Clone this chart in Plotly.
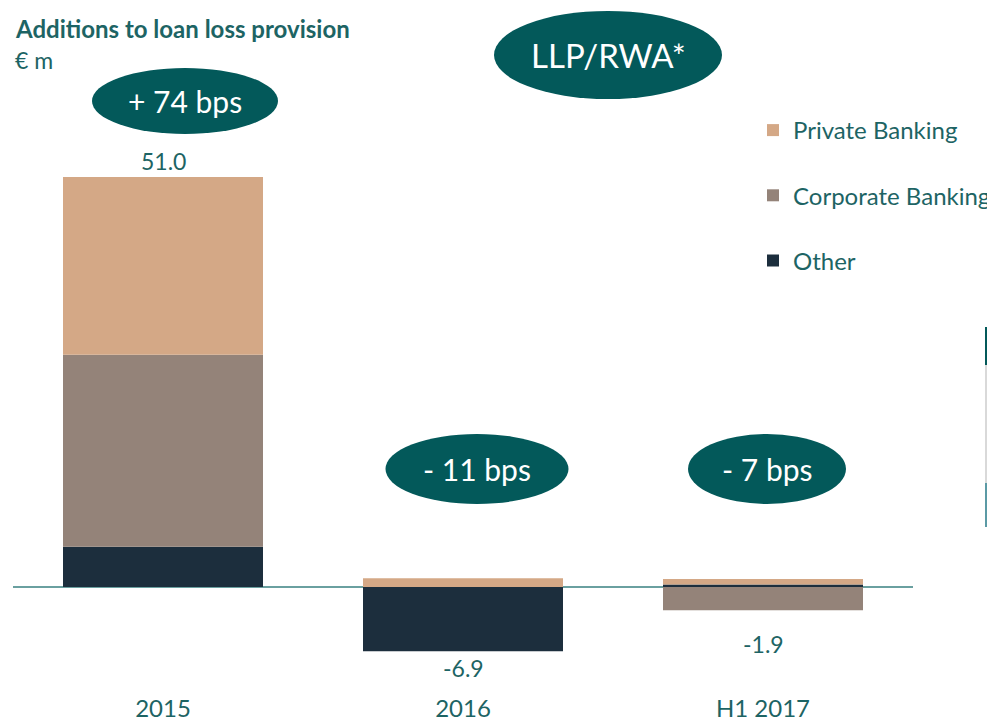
import plotly.graph_objects as go

# ---- data ----
categories = ["2015", "2016", "H1 2017"]
other = [5.0, -8.0, 0.3]
corporate = [23.9, 0.0, -2.9]
private = [22.1, 1.1, 0.7]
totals = ["51.0", "-6.9", "-1.9"]
bps_labels = ["+ 74 bps", "- 11 bps", "- 7 bps"]
legend_names = ["Other", "Corporate Banking", "Private Banking"]
table_rows = ["Additions to LLP", "Private Banking", "Corporate Banking", "Other", "Total"]

# ---- style ----
OFF = 8  # page body margin
W, H = 995, 721
PLOT_L, PLOT_R, PLOT_T, PLOT_B = 13, 913, 105, 684  # target screen pixels
ZERO_Y = 587
PX_PER_UNIT = 410 / 51.0
ML, MR, MT, MB = PLOT_L - OFF, W + OFF - PLOT_R, PLOT_T - OFF, H + OFF - PLOT_B
PW, PH = W - ML - MR, H - MT - MB
TEAL = "#03595a"
TXT = "#1d6464"
C_PRIV = "#d4a886"
C_CORP = "#948379"
C_OTHER = "#1c2e3d"
FONT = "Lato"


def px(x):
    return (x - PLOT_L) / PW


def py(y):
    return (PLOT_B - y) / PH


fig = go.Figure()
ranks = [3, 2, 1]
for name, vals, col, rk in zip(legend_names, [other, corporate, private], [C_OTHER, C_CORP, C_PRIV], ranks):
    fig.add_trace(go.Bar(
        x=categories, y=vals, name=name, marker=dict(color=col, line=dict(width=0)),
        legendgroup=name, legendrank=rk, hoverinfo="skip",
    ))

annotations = []
# total labels
shifts = [16, -17, -34]
for i, (t, o, c, p, s) in enumerate(zip(totals, other, corporate, private, shifts)):
    pos = sum(v for v in (o, c, p) if v > 0)
    neg = sum(v for v in (o, c, p) if v < 0)
    yv = pos if s > 0 else neg
    annotations.append(dict(x=i, y=yv, xref="x", yref="y", text=t, showarrow=False,
                            xanchor="center", yanchor="middle",
                            yshift=s, font=dict(family=FONT, size=23, color=TXT)))

# titles
annotations.append(dict(x=px(13), y=py(28), xref="paper", yref="paper", xanchor="left", yanchor="middle",
                        text="<b>Additions to loan loss provision</b>", showarrow=False,
                        font=dict(family=FONT, size=24, color=TXT)))
annotations.append(dict(x=px(13), y=py(60), xref="paper", yref="paper", xanchor="left", yanchor="middle",
                        text="€ m", showarrow=False, font=dict(family=FONT, size=23, color=TXT)))

shapes = []
# ellipses: (cx, cy, w, h, text, size)
ellipses = [
    (608, 55, 228, 88, "LLP/RWA*", 33),
    (185, 101, 186, 66, bps_labels[0], 30),
    (477, 469, 183, 70, bps_labels[1], 30),
    (767, 469, 158, 70, bps_labels[2], 30),
]
for cx, cy, w, h, t, fs in ellipses:
    shapes.append(dict(type="circle", xref="paper", yref="paper",
                       x0=px(cx - w / 2), x1=px(cx + w / 2), y0=py(cy + h / 2), y1=py(cy - h / 2),
                       fillcolor=TEAL, line=dict(width=0), layer="above"))
    annotations.append(dict(x=px(cx), y=py(cy), xref="paper", yref="paper", text=t, showarrow=False,
                            xanchor="center", yanchor="middle",
                            font=dict(family=FONT, size=fs, color="white")))

# cut-off table on the right
rows_geo = [(327, 365, TEAL), (365, 483, "#d9d9d9"), (483, 527, "#5b9aa5")]
for y0, y1, col in rows_geo:
    shapes.append(dict(type="rect", xref="paper", yref="paper", x0=px(985), x1=px(1100),
                       y0=py(y1), y1=py(y0), fillcolor=col, line=dict(width=0), layer="above"))
row_y = [351, 386, 427, 467, 500]
row_col = ["white", "black", "black", "black", "white"]
for t, yy, col in zip(table_rows, row_y, row_col):
    annotations.append(dict(x=px(987), y=py(yy), xref="paper", yref="paper", xanchor="left",
                            yanchor="middle", text=t, showarrow=False,
                            font=dict(family=FONT, size=22, color=col)))

fig.update_layout(
    width=W, height=H,
    margin=dict(l=ML, r=MR, t=MT, b=MB),
    barmode="relative", bargap=1 / 3,
    plot_bgcolor="white", paper_bgcolor="white",
    showlegend=True,
    legend=dict(x=px(753), y=py(108), xanchor="left", yanchor="top",
                traceorder="grouped", tracegroupgap=31,
                font=dict(family=FONT, size=24, color=TXT), bgcolor="rgba(0,0,0,0)",
                itemwidth=30),
    xaxis=dict(type="category", range=[-0.5, 2.5], showgrid=False, showline=False, ticks="",
               tickfont=dict(family=FONT, size=24, color=TXT), ticklabelstandoff=8),
    yaxis=dict(range=[-(PLOT_B - ZERO_Y) / PX_PER_UNIT, (ZERO_Y - PLOT_T) / PX_PER_UNIT], showgrid=False,
               showticklabels=False, zeroline=True, zerolinecolor="#6aa0a0", zerolinewidth=1.5,
               showline=False),
    annotations=annotations,
    shapes=shapes,
)

fig.write_html("out.html")
